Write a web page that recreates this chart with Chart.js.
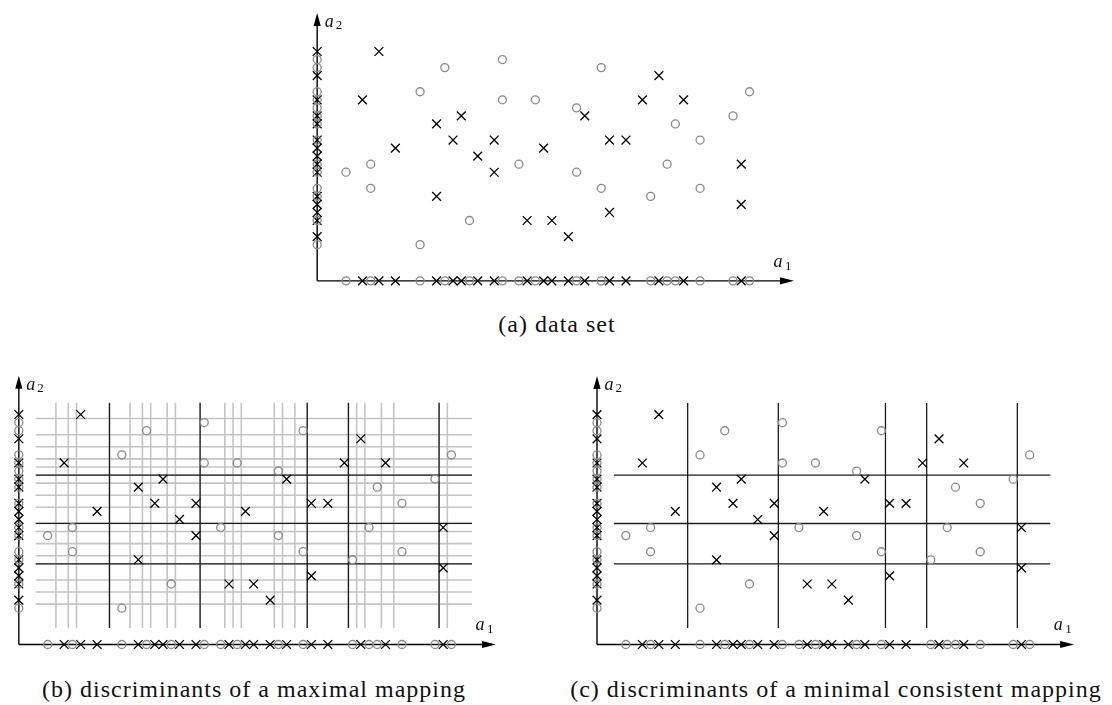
<!DOCTYPE html>
<html><head><meta charset="utf-8">
<script src="https://cdn.jsdelivr.net/npm/chart.js@4/dist/chart.umd.min.js"></script>
<style>
html,body{margin:0;padding:0;background:#fff;width:1112px;height:705px;overflow:hidden;}
body{position:relative;}
.panel{position:absolute;}
.panel canvas{display:block;}
.cap{position:absolute;font-family:"Liberation Serif","DejaVu Serif",serif;font-size:24px;line-height:24px;letter-spacing:1px;color:#111;white-space:nowrap;transform:translateX(-50%);}
</style></head><body>
<div class="panel" id="pa"><canvas id="ca"></canvas></div>
<div class="panel" id="pb"><canvas id="cb"></canvas></div>
<div class="panel" id="pc"><canvas id="cc"></canvas></div>
<div class="cap" id="capA">(a) data set</div>
<div class="cap" id="capB">(b) discriminants of a maximal mapping</div>
<div class="cap" id="capC">(c) discriminants of a minimal consistent mapping</div>
<script>
// ---- data (grid units) ----
const crossX  = [7,5,17,14,16,21,9,27,19,21,14,25,28,41,39,44,32,35,37,51,51,35,30];
const crossY  = [28,22,20,19,17,17,16,16,15,13,10,7,7,25,22,22,20,17,17,14,9,8,5];
const circleX = [15,22,12,22,26,6,24,3,6,18,12,34,52,31,50,43,46,42,31,34,46,40];
const circleY = [26,27,23,22,22,14,14,13,11,7,4,26,23,21,20,19,17,14,13,11,11,10];
// projections marked on the axes
const xAxisCross  = [5,7,9,14,16,17,19,21,25,27,28,30,32,35,37,41,44,51];
const xAxisCircle = [3,6,12,15,18,22,24,26,31,34,40,42,43,46,50,52];
const yAxisCross  = [5,7,8,9,10,13,14,15,16,17,19,20,22,25,28];
const yAxisCircle = [4,7,10,11,13,14,17,19,20,21,22,23,26,27];
// discriminants
const xCutsMaximal = [4,5.5,6.5,10.5,13,14.5,15.5,17.5,18.5,21.5,24.5,25.5,26.5,30.5,31.5,33,34.5,39.5,40.5,41.5,43.5,45,50.5,51.5];
const yCutsMaximal = [4.5,6,7.5,9.5,10.5,12,13.5,14.5,16.5,18,19.5,20.5,21.5,22.5,24,25.5,27.5];
const xCutsMinimal = [10.5,21.5,34.5,39.5,50.5];
const yCutsMinimal = [9.5,14.5,20.5];

const AXIS = -0.5, X_TIP = 57.4, Y_TIP = 32.8;
const LINE_X0 = 1.55, LINE_X1 = 54.5, LINE_Y0 = 1.55, LINE_Y1 = 29.45;

const framePlugin = {
  id: 'frame',
  beforeDatasetsDraw(chart) {
    const o = chart.options.plugins.frame;
    const ctx = chart.ctx, xs = chart.scales.x, ys = chart.scales.y;
    ctx.save();
    const drawCuts = (xc, yc, color, w) => {
      ctx.strokeStyle = color; ctx.lineWidth = w;
      xc.forEach(v => {
        const px = xs.getPixelForValue(v);
        ctx.beginPath(); ctx.moveTo(px, ys.getPixelForValue(LINE_Y0)); ctx.lineTo(px, ys.getPixelForValue(LINE_Y1)); ctx.stroke();
      });
      yc.forEach(v => {
        const py = ys.getPixelForValue(v);
        ctx.beginPath(); ctx.moveTo(xs.getPixelForValue(LINE_X0), py); ctx.lineTo(xs.getPixelForValue(LINE_X1), py); ctx.stroke();
      });
    };
    if (o.gray) drawCuts(o.gray[0], o.gray[1], '#c4c4c4', 1.6);
    if (o.black) drawCuts(o.black[0], o.black[1], '#1c1c1c', 1.3);
    // axes
    const ax = xs.getPixelForValue(AXIS), ay = ys.getPixelForValue(AXIS);
    const tx = xs.getPixelForValue(X_TIP), ty = ys.getPixelForValue(Y_TIP);
    ctx.strokeStyle = '#000'; ctx.fillStyle = '#000'; ctx.lineWidth = 1.4;
    ctx.beginPath(); ctx.moveTo(ax, ay); ctx.lineTo(tx - 8, ay); ctx.stroke();
    ctx.beginPath(); ctx.moveTo(ax, ay); ctx.lineTo(ax, ty + 8); ctx.stroke();
    ctx.beginPath(); ctx.moveTo(tx, ay); ctx.lineTo(tx - 14, ay - 3.6); ctx.lineTo(tx - 14, ay + 3.6); ctx.closePath(); ctx.fill();
    ctx.beginPath(); ctx.moveTo(ax, ty); ctx.lineTo(ax - 3.6, ty + 13); ctx.lineTo(ax + 3.6, ty + 13); ctx.closePath(); ctx.fill();
    // labels
    ctx.fillStyle = '#111'; ctx.textBaseline = 'alphabetic'; ctx.textAlign = 'left';
    ctx.font = 'italic 18px "Liberation Serif", serif';
    ctx.fillText('a', ax + 7.5, ty + 14.5);
    ctx.fillText('a', tx - 20.5, ay - 14.3);
    ctx.font = '13px "Liberation Serif", serif';
    ctx.fillText('2', ax + 18.5, ty + 16.5);
    ctx.fillText('1', tx - 9, ay - 11.3);
    ctx.restore();
  }
};

function pts(xa, ya) { return xa.map((x, i) => ({x: x, y: ya[i]})); }

function makeChart(panelId, canvasId, g) {
  const panel = document.getElementById(panelId);
  panel.style.left = g.left + 'px'; panel.style.top = g.top + 'px';
  const cv = document.getElementById(canvasId);
  cv.width = g.width; cv.height = g.height;
  cv.style.width = g.width + 'px'; cv.style.height = g.height + 'px';
  const xmin = -(g.ox - g.left) / g.s, xmax = (g.left + g.width - g.ox) / g.s;
  const ymax = (g.oy - g.top) / g.s, ymin = -(g.top + g.height - g.oy) / g.s;
  const crossStyle = {pointStyle: 'crossRot', pointRadius: 6.2, borderColor: '#000', backgroundColor: '#000', pointBorderWidth: 1.3, showLine: false, clip: false};
  const circStyle = {pointStyle: 'circle', pointRadius: 4.0, borderColor: '#8a8a8a', backgroundColor: 'rgba(0,0,0,0)', pointBorderWidth: 1.3, showLine: false, clip: false};
  new Chart(cv.getContext('2d'), {
    type: 'scatter',
    data: {datasets: [
      Object.assign({label: 'circles', data: pts(circleX, circleY)}, circStyle),
      Object.assign({label: 'crosses', data: pts(crossX, crossY)}, crossStyle),
      Object.assign({label: 'a1 circles', data: xAxisCircle.map(x => ({x: x, y: AXIS}))}, circStyle),
      Object.assign({label: 'a1 crosses', data: xAxisCross.map(x => ({x: x, y: AXIS}))}, crossStyle),
      Object.assign({label: 'a2 circles', data: yAxisCircle.map(y => ({x: AXIS, y: y}))}, circStyle),
      Object.assign({label: 'a2 crosses', data: yAxisCross.map(y => ({x: AXIS, y: y}))}, crossStyle)
    ]},
    options: {
      responsive: false, animation: false, events: [],
      layout: {padding: 0},
      plugins: {legend: {display: false}, tooltip: {enabled: false}, frame: {gray: g.gray, black: g.black}},
      scales: {
        x: {type: 'linear', min: xmin, max: xmax, display: false},
        y: {type: 'linear', min: ymin, max: ymax, display: false}
      }
    },
    plugins: [framePlugin]
  });
}

makeChart('pa', 'ca', {left: 285, top: 0, width: 540, height: 300, ox: 314.6, oy: 283.5, s: 8.47});
makeChart('pb', 'cb', {left: 0, top: 355, width: 530, height: 310, ox: 15.9, oy: 647.1, s: 8.48,
  gray: [xCutsMaximal, yCutsMaximal], black: [xCutsMinimal, yCutsMinimal]});
makeChart('pc', 'cc', {left: 570, top: 355, width: 542, height: 310, ox: 594.3, oy: 647.1, s: 8.476,
  black: [xCutsMinimal, yCutsMinimal]});

function placeCap(id, cx, baseline) {
  const el = document.getElementById(id);
  el.style.left = cx + 'px'; el.style.top = (baseline - 20.1) + 'px';
}
placeCap('capA', 557, 332);
placeCap('capB', 254, 697);
placeCap('capC', 836, 697);
</script>
</body></html>
